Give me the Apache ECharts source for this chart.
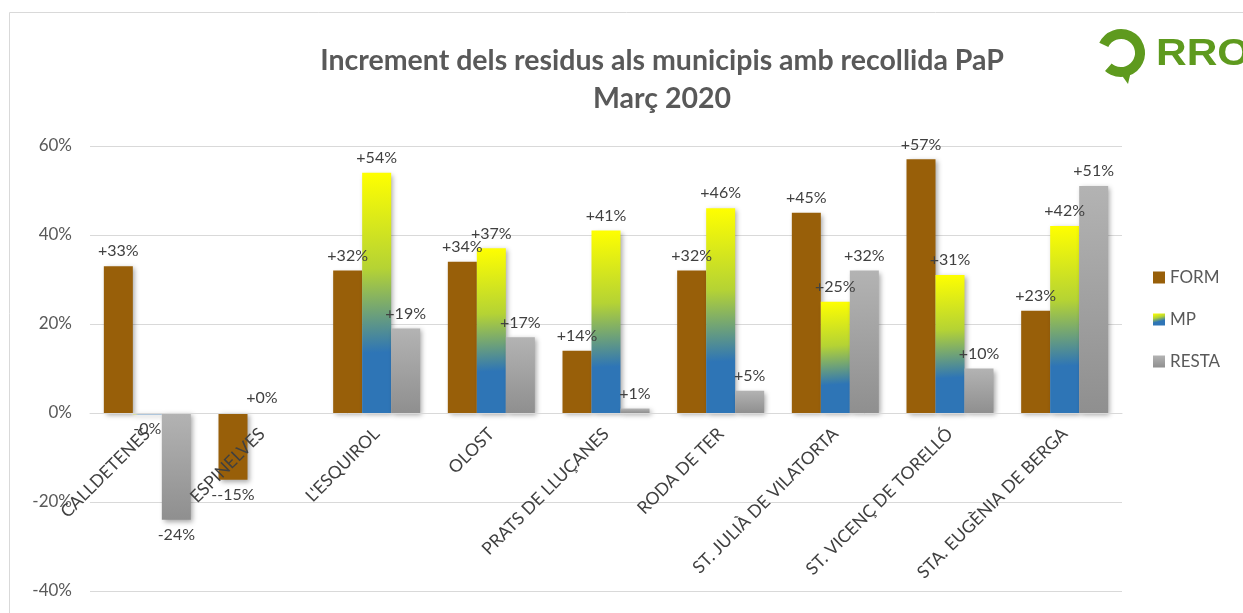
<!DOCTYPE html>
<html lang="ca">
  <head>
    <meta charset="UTF-8" />
    <title>Increment dels residus</title>
    <style>
      html, body { margin: 0; width: 100%; height: 100%; background: #fff; }
      #chart { width: 1243px; height: 613px; }
    </style>
    <script src="https://cdn.jsdelivr.net/npm/echarts@6/dist/echarts.min.js"></script>
  </head>
  <body>
    <div id="chart"></div>
    <script>
      const municipis = [
        'CALLDETENES', 'ESPINELVES', "L'ESQUIROL", 'OLOST', 'PRATS DE LLUÇANES',
        'RODA DE TER', 'ST. JULIÀ DE VILATORTA', 'ST. VICENÇ DE TORELLÓ', 'STA. EUGÈNIA DE BERGA'
      ]
      const form = [33, -15, 32, 34, 14, 32, 45, 57, 23]
      const mp = [-0.3, 0, 54, 37, 41, 46, 25, 31, 42]
      const resta = [-24, null, 19, 17, 1, 5, 32, 10, 51]
      // etiquetes tal com surten a l'original
      const formLabels = ['+33%', '--15%', '+32%', '+34%', '+14%', '+32%', '+45%', '+57%', '+23%']
      const mpLabels = ['-0%', '+0%', '+54%', '+37%', '+41%', '+46%', '+25%', '+31%', '+42%']
      const restaLabels = ['-24%', '', '+19%', '+17%', '+1%', '+5%', '+32%', '+10%', '+51%']
      const yTicks = [-40, -20, 0, 20, 40, 60]

      const chart = echarts.init(document.getElementById('chart'))

      const mpColor = new echarts.graphic.LinearGradient(0, 0, 0.25, 1, [
        { offset: 0, color: '#ffff00' },
        { offset: 0.4, color: '#b5d334' },
        { offset: 0.75, color: '#2e75b6' },
        { offset: 1, color: '#2e75b6' }
      ])
      const restaColor = new echarts.graphic.LinearGradient(0, 0, 0, 1, [
        { offset: 0, color: '#b3b3b3' },
        { offset: 1, color: '#8f8f8f' }
      ])

      function build(values, labels) {
        return values.map((v, i) => ({
          value: v,
          label: {
            position: v < 0 ? 'bottom' : 'top',
            formatter: labels[i]
          }
        }))
      }

      const barStyle = {
        shadowColor: 'rgba(0,0,0,0.35)',
        shadowBlur: 5,
        shadowOffsetX: 2,
        shadowOffsetY: 2
      }
      const labelStyle = {
        show: true,
        fontSize: 16,
        color: '#404040',
        fontFamily: 'Lato',
        distance: 7
      }

      // 0% cau a 178 px per sobre de la vora inferior de la graella
      const zeroOffset = -178

      const options = {
        textStyle: { fontFamily: 'Lato' },
        title: {
          text: 'Increment dels residus als municipis amb recollida PaP\nMarç 2020',
          left: 657,
          textAlign: 'center',
          top: 37,
          textStyle: {
            fontSize: 28.5,
            fontWeight: 'bold',
            color: '#595959',
            lineHeight: 38,
            fontFamily: 'Lato'
          }
        },
        legend: {
          orient: 'vertical',
          left: 1148,
          top: 264,
          itemWidth: 12,
          itemHeight: 12,
          itemGap: 25,
          icon: 'rect',
          textStyle: { fontSize: 17, color: '#595959', fontFamily: 'Lato' },
          data: ['FORM', 'MP', 'RESTA']
        },
        grid: {
          left: 90, right: 121, top: 146, bottom: 22,
          containLabel: false,
          outerBoundsMode: 'none'
        },
        xAxis: {
          type: 'category',
          data: municipis,
          offset: zeroOffset,
          z: 5,
          axisLine: { onZero: false, lineStyle: { color: '#d9d9d9', width: 1 } },
          axisTick: { show: false },
          axisLabel: {
            rotate: 45,
            fontSize: 17.5,
            color: '#404040',
            fontFamily: 'Lato',
            margin: 18,
            interval: 0
          }
        },
        yAxis: {
          type: 'value',
          min: yTicks[0],
          max: yTicks[yTicks.length - 1],
          interval: 20,
          axisLine: { show: false },
          axisTick: { show: false },
          splitLine: { lineStyle: { color: '#d9d9d9', width: 1 } },
          axisLabel: {
            formatter: '{value}%',
            fontSize: 17,
            color: '#595959',
            fontFamily: 'Lato',
            margin: 18
          }
        },
        graphic: [
          {
            type: 'rect',
            shape: { x: 9.5, y: 12.5, width: 1300, height: 700 },
            style: { fill: 'none', stroke: '#d9d9d9', lineWidth: 1 },
            silent: true
          },
          {
            type: 'arc',
            shape: { cx: 1121, cy: 53, r: 19, startAngle: -2.7, endAngle: 2.3, clockwise: true },
            style: { stroke: '#5e9a1e', lineWidth: 10, fill: 'none' },
            silent: true
          },
          {
            type: 'polygon',
            shape: { points: [[1118, 70], [1131, 71], [1128, 84]] },
            style: { fill: '#5e9a1e' },
            silent: true
          },
          {
            type: 'text',
            x: 1156,
            y: 37,
            scaleX: 1.18,
            style: {
              text: 'RRO',
              fontSize: 36,
              fontWeight: 'bold',
              fill: '#5e9a1e',
              fontFamily: 'Liberation Sans'
            },
            silent: true
          }
        ],
        series: [
          {
            name: 'FORM',
            type: 'bar',
            barWidth: 29,
            barGap: '0%',
            itemStyle: Object.assign({ color: '#985f09' }, barStyle),
            label: labelStyle,
            data: build(form, formLabels)
          },
          {
            name: 'MP',
            type: 'bar',
            barWidth: 29,
            itemStyle: Object.assign({ color: mpColor }, barStyle),
            label: labelStyle,
            data: build(mp, mpLabels)
          },
          {
            name: 'RESTA',
            type: 'bar',
            barWidth: 29,
            itemStyle: Object.assign({ color: restaColor }, barStyle),
            label: labelStyle,
            data: build(resta, restaLabels)
          }
        ]
      }
      chart.setOption(options)
    </script>
  </body>
</html>
